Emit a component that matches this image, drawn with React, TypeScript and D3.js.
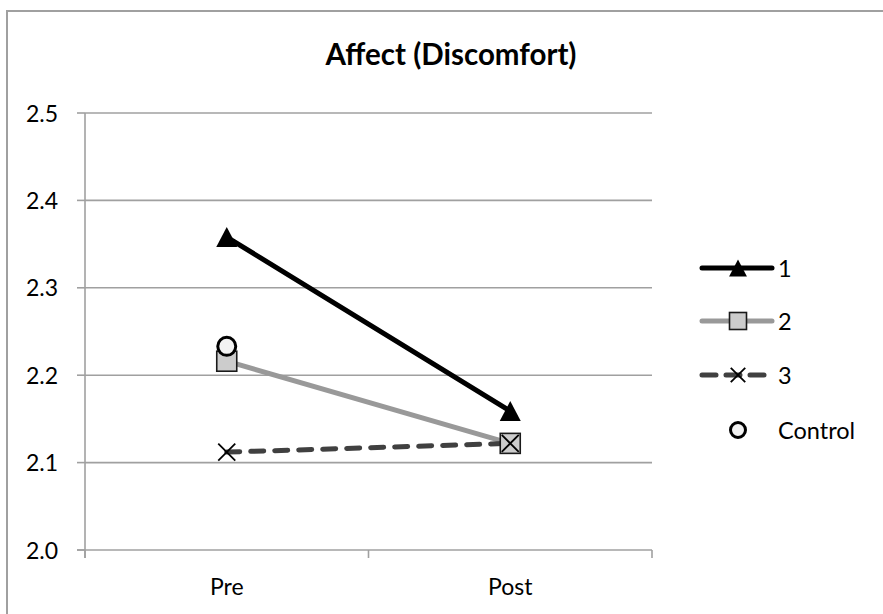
import React from "react";
import * as d3 from "d3";

// Mean discomfort ratings by group, before and after
const categories = ["Pre", "Post"];
const series1 = [2.358, 2.159];
const series2 = [2.216, 2.122];
const series3 = [2.112, 2.122];
const control: (number | null)[] = [2.233, null];
const yTicks = [2.0, 2.1, 2.2, 2.3, 2.4, 2.5];
const seriesNames = ["1", "2", "3", "Control"];

const W = 883;
const H = 614;
const FONT = "Lato, 'Open Sans', sans-serif";
const GRID = "#a0a0a0";

const x = d3.scaleBand<string>().domain(categories).range([85, 652]).padding(0);
const y = d3.scaleLinear().domain([2.0, 2.5]).range([550, 113]);
const cx = (c: string) => (x(c) as number) + x.bandwidth() / 2;

type MarkerKind = "triangle" | "square" | "x" | "circle";

function Marker({ kind, px, py, s }: { kind: MarkerKind; px: number; py: number; s: number }) {
  const h = s / 2;
  if (kind === "triangle") {
    const p = d3.path();
    p.moveTo(px, py - h);
    p.lineTo(px + h * 1.05, py + h);
    p.lineTo(px - h * 1.05, py + h);
    p.closePath();
    return <path d={p.toString()} fill="#000" />;
  }
  if (kind === "square") {
    return (
      <rect x={px - h} y={py - h} width={s} height={s} fill="#cccccc" stroke="#1a1a1a" strokeWidth={1.6} />
    );
  }
  if (kind === "x") {
    const k = h * 0.85;
    return (
      <g stroke="#000" strokeWidth={1.8}>
        <line x1={px - k} y1={py - k} x2={px + k} y2={py + k} />
        <line x1={px - k} y1={py + k} x2={px + k} y2={py - k} />
      </g>
    );
  }
  return <circle cx={px} cy={py} r={h - 1} fill="#f2f2f2" stroke="#000" strokeWidth={3} />;
}

type Series = {
  name: string;
  values: (number | null)[];
  color: string | null;
  dash?: string;
  marker: MarkerKind;
};

const series: Series[] = [
  { name: seriesNames[0], values: series1, color: "#000000", marker: "triangle" },
  { name: seriesNames[1], values: series2, color: "#999999", marker: "square" },
  { name: seriesNames[2], values: series3, color: "#404040", dash: "13 11", marker: "x" },
  { name: seriesNames[3], values: control, color: null, marker: "circle" },
];

export default function App() {
  const line = d3
    .line<{ c: string; v: number | null }>()
    .defined((d) => d.v != null)
    .x((d) => cx(d.c))
    .y((d) => y(d.v as number));

  const legendY = [268, 321, 375, 430];

  return (
    <svg width={W} height={H} style={{ position: "absolute", left: 0, top: 0, display: "block" }}>
      <rect x={0} y={0} width={W} height={H} fill="#fff" />
      {/* chart frame */}
      <rect x={7} y={11} width={W} height={H} fill="none" stroke={GRID} strokeWidth={2} />

      {/* title */}
      <text x={451} y={65} textAnchor="middle" fontFamily={FONT} fontWeight="bold" fontSize={29.5} fill="#000">
        Affect (Discomfort)
      </text>

      {/* gridlines and y ticks */}
      {yTicks.map((t) => (
        <g key={t}>
          {t > 2.0 && <line x1={85} x2={652} y1={y(t)} y2={y(t)} stroke={GRID} strokeWidth={1.6} />}
          <line x1={77} x2={85} y1={y(t)} y2={y(t)} stroke={GRID} strokeWidth={1.6} />
          <text x={58} y={y(t) + 8.5} textAnchor="end" fontFamily={FONT} fontSize={23} fill="#000">
            {t.toFixed(1)}
          </text>
        </g>
      ))}

      {/* axes */}
      <line x1={85} x2={85} y1={y(2.5)} y2={558} stroke={GRID} strokeWidth={1.6} />
      <line x1={77} x2={652} y1={y(2.0)} y2={y(2.0)} stroke={GRID} strokeWidth={1.6} />
      {[...categories.map((c) => x(c) as number), 652].map((tx, i) => (
        <line key={i} x1={tx} x2={tx} y1={y(2.0)} y2={558} stroke={GRID} strokeWidth={1.6} />
      ))}
      {categories.map((c) => (
        <text key={c} x={cx(c)} y={595} textAnchor="middle" fontFamily={FONT} fontSize={23} fill="#000">
          {c}
        </text>
      ))}

      {/* lines */}
      {series.map((s) =>
        s.color ? (
          <path
            key={"l" + s.name}
            d={line(categories.map((c, i) => ({ c, v: s.values[i] }))) || ""}
            fill="none"
            stroke={s.color}
            strokeWidth={5}
            strokeDasharray={s.dash}
            strokeLinecap="round"
            strokeLinejoin="round"
          />
        ) : null
      )}

      {/* markers */}
      {series.map((s) =>
        categories.map((c, i) =>
          s.values[i] != null ? (
            <Marker key={s.name + c} kind={s.marker} px={cx(c)} py={y(s.values[i] as number)} s={20} />
          ) : null
        )
      )}

      {/* legend */}
      {series.map((s, i) => (
        <g key={"lg" + s.name}>
          {s.color && (
            <line
              x1={702}
              x2={772}
              y1={legendY[i]}
              y2={legendY[i]}
              stroke={s.color}
              strokeWidth={5}
              strokeDasharray={s.dash ? "14 10" : undefined}
              strokeLinecap="round"
            />
          )}
          <Marker kind={s.marker} px={738} py={legendY[i]} s={17} />
          <text x={778} y={legendY[i] + 9} fontFamily={FONT} fontSize={23.5} fill="#000">
            {s.name}
          </text>
        </g>
      ))}
    </svg>
  );
}
